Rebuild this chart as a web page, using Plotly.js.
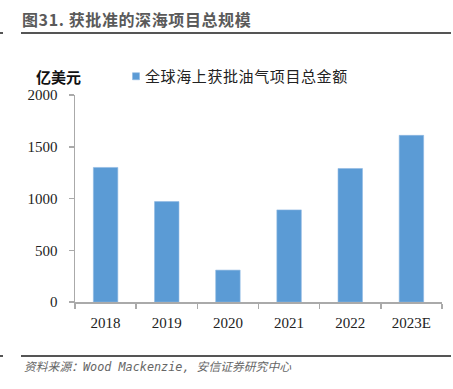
<!DOCTYPE html>
<html><head><meta charset="utf-8">
<script src="https://cdn.plot.ly/plotly-3.0.1.min.js"></script>
<style>body{margin:0;background:#fff}#c{width:453px;height:389px}
.gtitle{letter-spacing:0.6px}
.legendtext{letter-spacing:0.6px}
</style>
</head><body><div id="c"></div>
<script>
const categories = ['2018','2019','2020','2021','2022','2023E'];
const values = [1300, 970, 308, 890, 1290, 1610];
const seriesName = '全球海上获批油气项目总金额';
const yTicks = [0, 500, 1000, 1500, 2000];
const titleText = '图31. 获批准的深海项目总规模';
const unitText = '亿美元';
const sourceText = '资料来源：Wood Mackenzie, 安信证券研究中心';

const serif = "'Liberation Serif','Times New Roman',serif";
const cjk = "'Noto Sans CJK SC','Noto Sans',sans-serif";
const mono = "'DejaVu Sans Mono','Noto Sans CJK SC',monospace";

const trace = {
  type: 'bar', x: categories, y: values, name: seriesName,
  marker: {color: '#5B9BD5', line: {color: '#8fb9e3', width: 0.6}},
  width: 0.4, hoverinfo: 'none'
};

const X = px => (px - 75) / 367;
const Y = py => (302 - py) / 207;

const layout = {
  width: 453, height: 389,
  margin: {l: 75, r: 11, t: 95, b: 87},
  paper_bgcolor: '#fff', plot_bgcolor: '#fff',
  showlegend: true,
  legend: {x: X(116), y: Y(76.5), xanchor: 'left', yanchor: 'middle', orientation: 'h',
           font: {family: cjk, size: 15, color: '#222'}, bgcolor: 'rgba(0,0,0,0)'},
  title: {text: titleText, x: 22/453, xref: 'container', xanchor: 'left', y: 1 - 20/389, yref: 'container', yanchor: 'middle',
          font: {family: cjk, size: 16, color: '#5a5a5a', weight: 'bold'}},
  xaxis: {type: 'category', showline: true, linecolor: '#aaa', linewidth: 1.5,
          ticks: 'outside', tickson: 'boundaries', ticklen: 5, tickcolor: '#aaa', tickwidth: 1.5,
          tickfont: {family: serif, size: 15, color: '#222'}, ticklabelstandoff: 6, showgrid: false, zeroline: false, fixedrange: true},
  yaxis: {range: [0, 2000], tickvals: yTicks, showline: true, linecolor: '#aaa', linewidth: 1.5,
          ticks: 'outside', ticklen: 5, tickcolor: '#aaa', tickwidth: 1.5,
          tickfont: {family: serif, size: 15, color: '#222'}, ticklabelstandoff: 8, showgrid: false, zeroline: false, fixedrange: true},
  shapes: [
    {type: 'line', xref: 'paper', yref: 'paper', x0: X(21), x1: X(451), y0: Y(33), y1: Y(33), line: {color: '#555', width: 2}},
    {type: 'line', xref: 'paper', yref: 'paper', x0: X(0), x1: X(3), y0: Y(33), y1: Y(33), line: {color: '#555', width: 2}},
    {type: 'line', xref: 'paper', yref: 'paper', x0: X(21), x1: X(451), y0: Y(356), y1: Y(356), line: {color: '#555', width: 2}},
    {type: 'line', xref: 'paper', yref: 'paper', x0: X(0), x1: X(3), y0: Y(356), y1: Y(356), line: {color: '#555', width: 2}}
  ],
  annotations: [
    {text: unitText, xref: 'paper', yref: 'paper', x: X(58.5), y: Y(76.5), xanchor: 'center', yanchor: 'middle', showarrow: false,
     font: {family: cjk, size: 15, color: '#111', weight: 'bold'}},
    {text: '<i>' + sourceText + '</i>', xref: 'paper', yref: 'paper', x: X(22), y: Y(367), xanchor: 'left', yanchor: 'middle', showarrow: false,
     font: {family: mono, size: 11.8, color: '#666'}}
  ]
};

Plotly.newPlot('c', [trace], layout, {displayModeBar: false, staticPlot: true}).then(() => {
  document.querySelectorAll('.legend .legendpoints path').forEach(p => p.setAttribute('d', 'M3.5,3.5H-3.5V-3.5H3.5Z'));
  document.querySelectorAll('.legend .legendtext').forEach(t => t.setAttribute('x', 29));
});
</script></body></html>
